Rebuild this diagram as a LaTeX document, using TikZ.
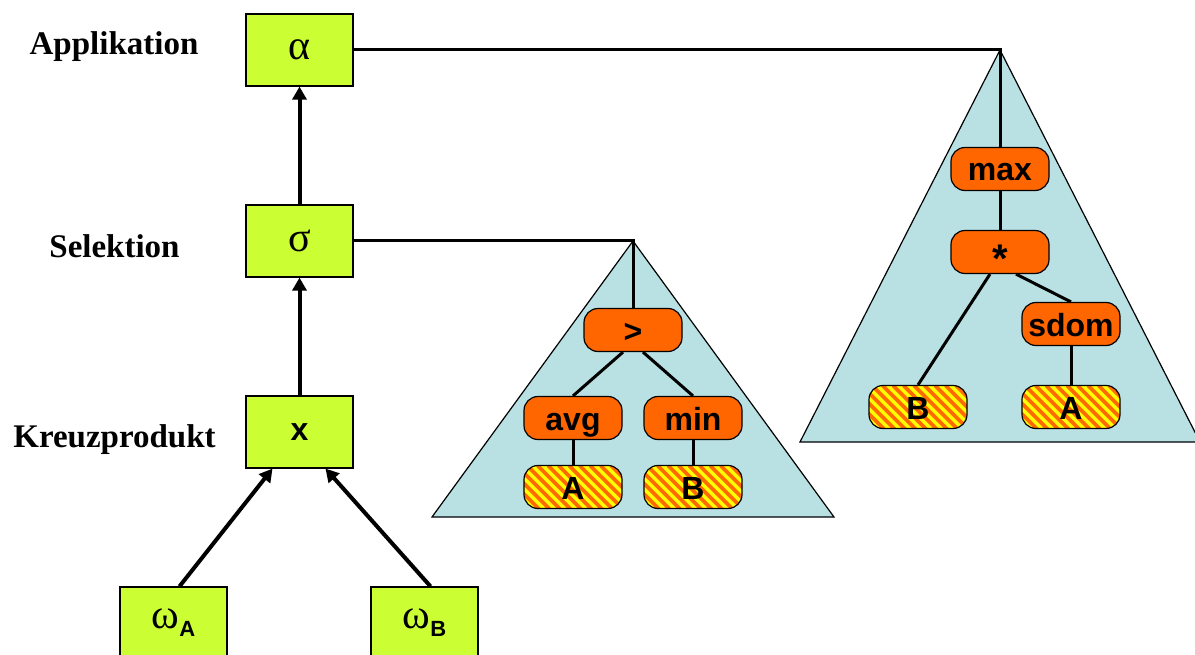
\documentclass[tikz,border=0pt]{standalone}
\usepackage{fontspec}
\setmainfont{Liberation Serif}
\setsansfont{Liberation Sans}
\usetikzlibrary{arrows.meta,calc}

\definecolor{opgreen}{HTML}{CCFF33}
\definecolor{fnorange}{HTML}{FF6600}
\definecolor{stripeyellow}{HTML}{FFFF00}
\definecolor{stripeorange}{HTML}{FF6A00}
\definecolor{treeblue}{HTML}{B9E0E3}

\begin{document}
\begin{tikzpicture}[x=1pt,y=-1pt,
    opbox/.style={draw, line width=1.2pt, fill=opgreen, minimum width=107pt,
        minimum height=72pt, inner sep=0pt, font=\fontsize{42}{46}\selectfont},
    fnode/.style={draw, line width=1.2pt, fill=fnorange, rounded corners=14pt,
        minimum width=98pt, minimum height=43pt, inner sep=0pt,
        text height=24pt, text depth=0pt,
        font=\sffamily\bfseries\fontsize{32}{36}\selectfont},
    attr/.style={fnode, fill=stripeyellow,
        path picture={
            \foreach \i in {-8,...,16}
                \draw[stripeorange, line width=3.8pt]
                    ($(path picture bounding box.north west)+(\i*10.5-60,0)$) -- ++(60,60);
        }},
    level/.style={anchor=base, font=\bfseries\fontsize{33}{36}\selectfont},
    flow/.style={line width=4pt, -{Triangle[length=13pt,width=14pt]}},
    link/.style={line width=3pt},
    tree/.style={draw, line width=1.2pt, fill=treeblue}]

    \useasboundingbox (0,0) rectangle (1195,655);

    % Expression trees
    \coordinate (top1) at (633,241);
    \coordinate (top2) at (1000,50);
    \draw[tree] (top1) -- (432,517) -- (834,517) -- cycle;
    \draw[tree] (top2) -- (800,442) -- (1200,442) -- cycle;

    % Operator boxes
    \node[opbox] (app) at (299.5,50) {α};
    \node[opbox] (sel) at (299.5,241) {σ};
    \node[opbox] (cross) at (299.5,432) {\sffamily\bfseries\fontsize{32}{36}\selectfont x};
    \node[opbox] (omA) at (173.5,623)
        {ω\raisebox{-8pt}{\sffamily\bfseries\fontsize{22}{22}\selectfont A}};
    \node[opbox] (omB) at (424.5,623)
        {ω\raisebox{-8pt}{\sffamily\bfseries\fontsize{22}{22}\selectfont B}};

    % Level names
    \node[level] (lapp) at (114,55) {Applikation};
    \node[level] (lsel) at (114.5,258) {Selektion};
    \node[level] (lcross) at (114.5,447) {Kreuzprodukt};

    % Data flow
    \draw[flow] (sel) -- (app);
    \draw[flow] (cross) -- (sel);
    \draw[flow] ($(omA.north)+(6,0)$) -- ($(cross.south)+(-27,0)$);
    \draw[flow] ($(omB.north)+(6,0)$) -- ($(cross.south)+(26,0)$);

    % Selection predicate
    \node[fnode] (gt) at (633,330) {>};
    \node[fnode] (avg) at (573,418) {avg};
    \node[fnode] (minf) at (693,418) {min};
    \node[attr] (selA) at (573,487) {A};
    \node[attr] (selB) at (693,487) {B};

    % Applied function
    \node[fnode] (max) at (1000,169) {max};
    \node[fnode] (mul) at (1000,252) {\raisebox{-9pt}{\fontsize{40}{40}\selectfont *}};
    \node[fnode] (sdom) at (1071,324) {sdom};
    \node[attr] (appB) at (918,407) {B};
    \node[attr] (appA) at (1071,407) {A};

    % Tree edges
    \draw[link] (sel.east) -- (top1) -- (gt);
    \draw[link] ($(gt.south)+(-10,0)$) -- (avg.north);
    \draw[link] ($(gt.south)+(10,0)$) -- (minf.north);
    \draw[link] (avg) -- (selA);
    \draw[link] (minf) -- (selB);

    \draw[link] (app.east) -- (top2) -- (max);
    \draw[link] (max) -- (mul);
    \draw[link] ($(mul.south)+(-10,0)$) -- (appB.north);
    \draw[link] ($(mul.south)+(16,0)$) -- (sdom.north);
    \draw[link] (sdom) -- (appA);

\end{tikzpicture}
\end{document}
